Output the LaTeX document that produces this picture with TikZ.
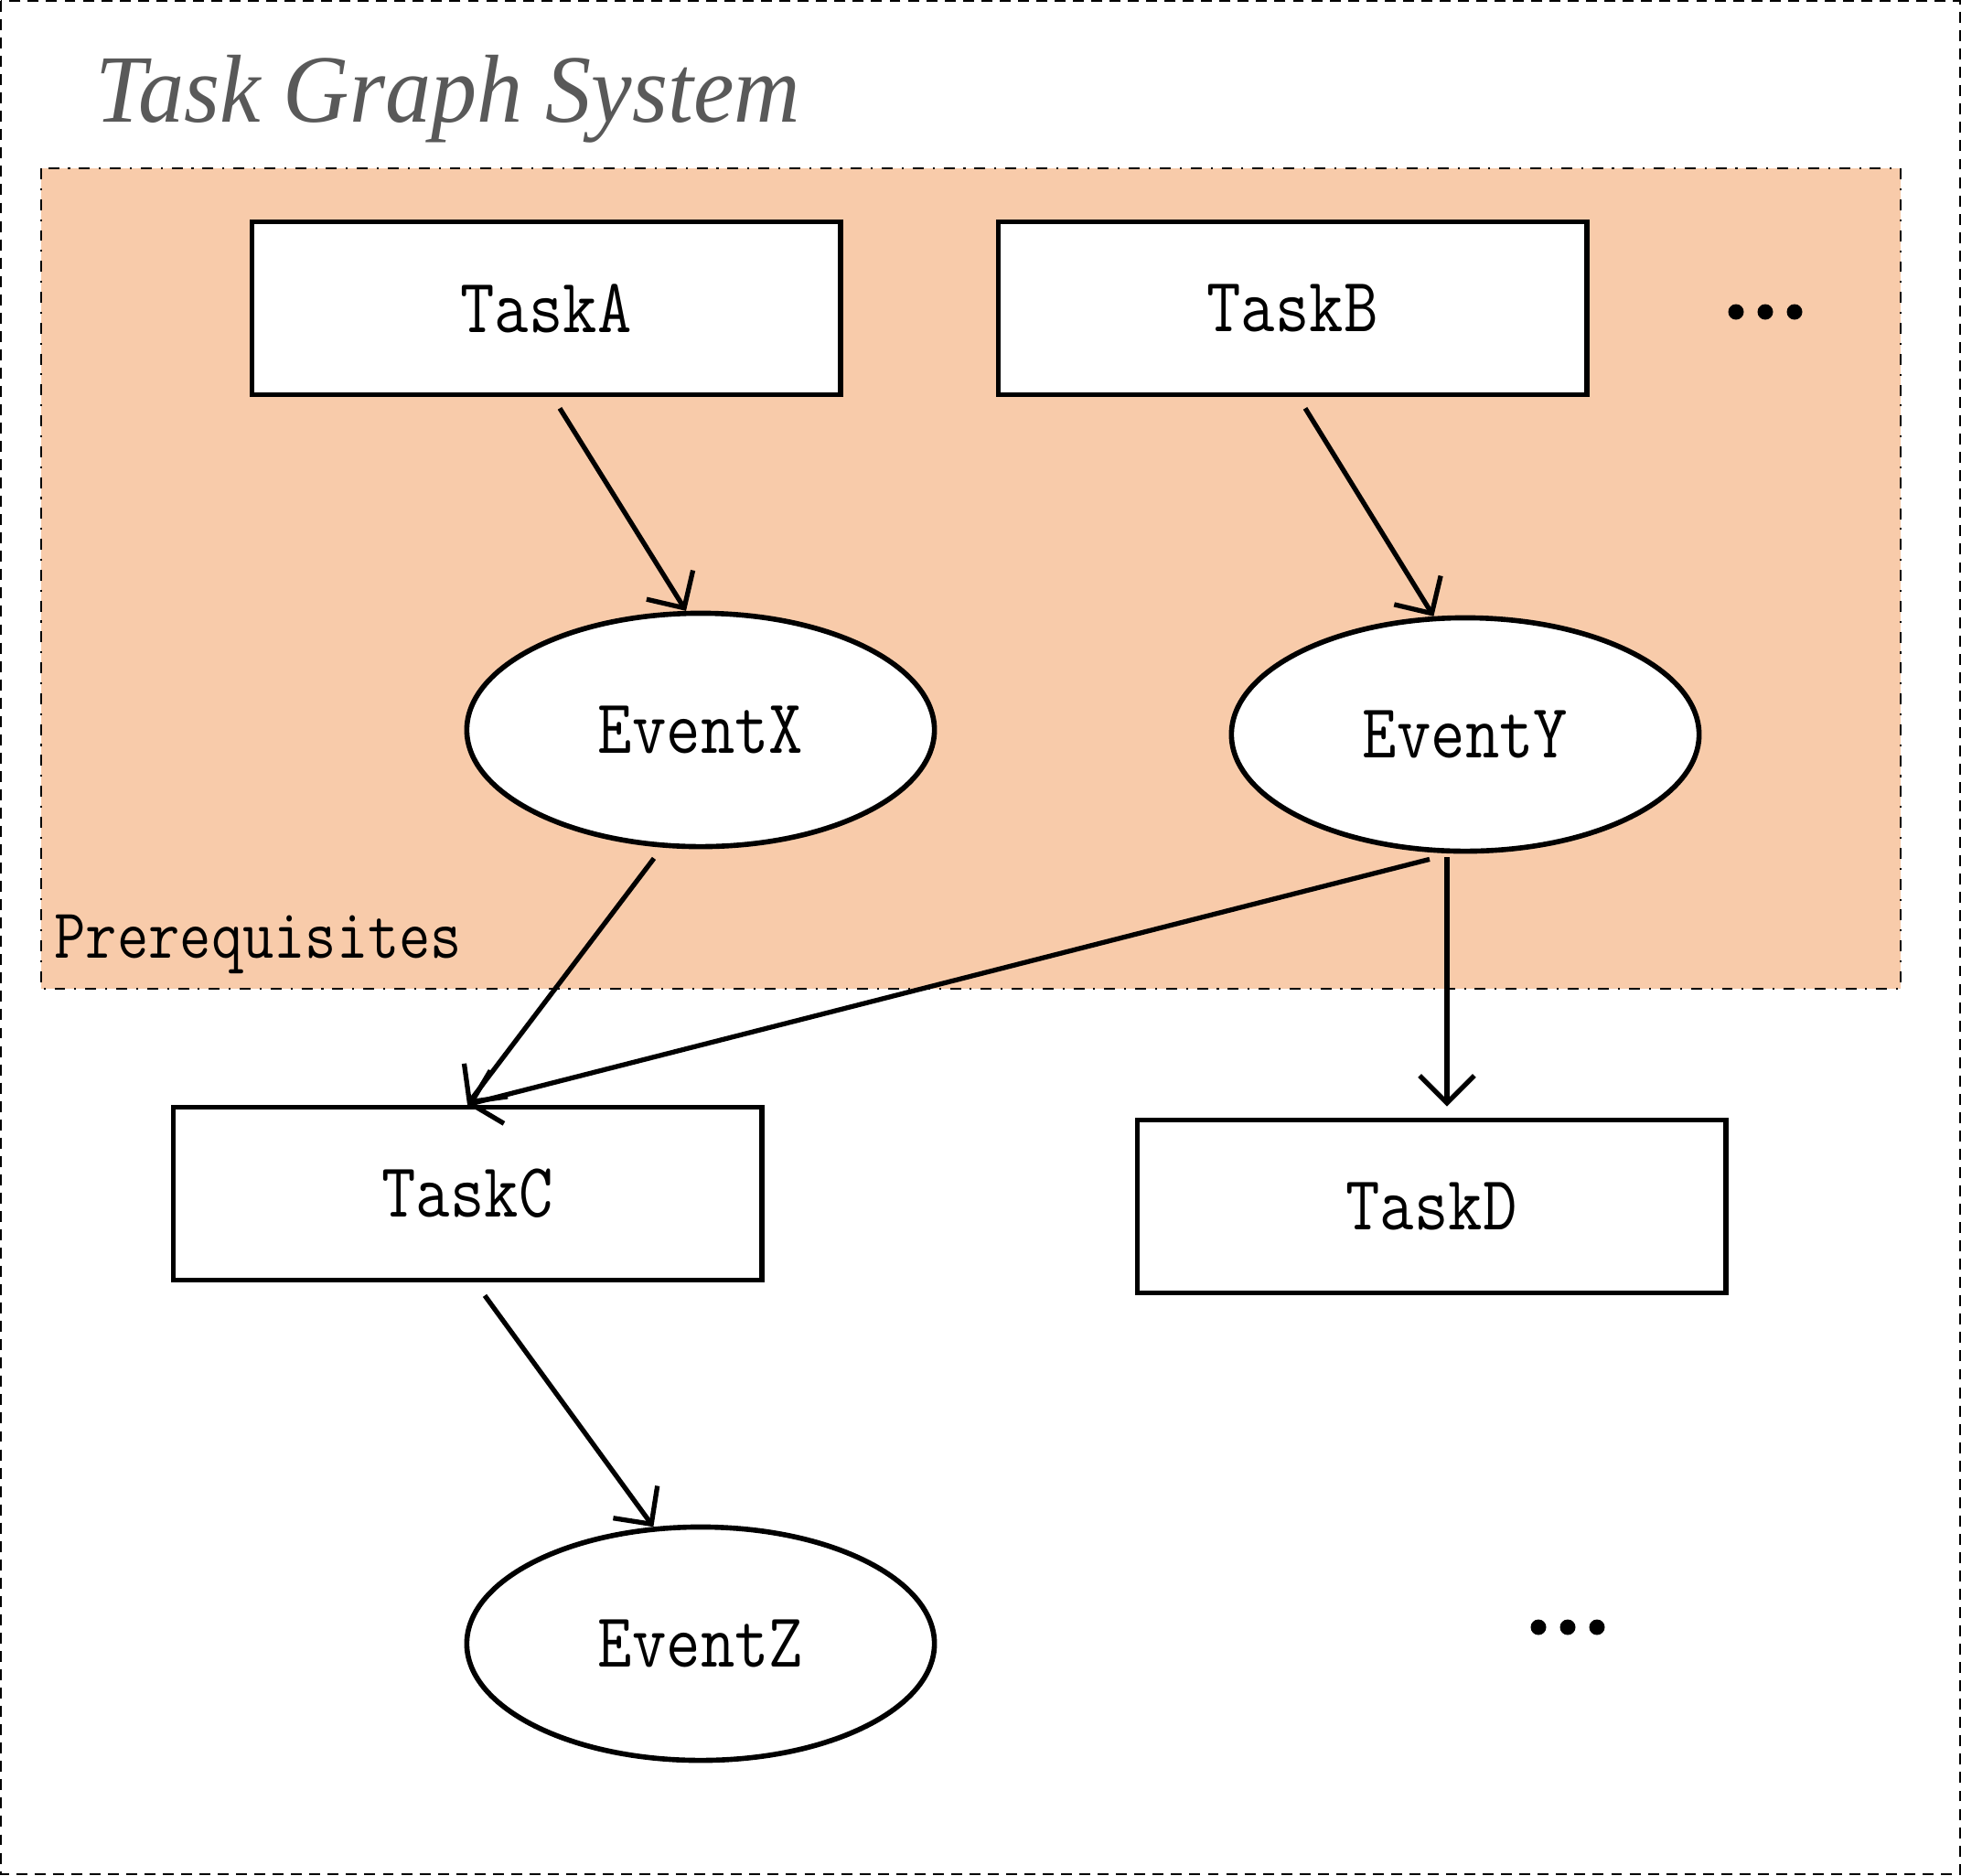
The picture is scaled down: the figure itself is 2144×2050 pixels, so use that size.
\documentclass[tikz,border=0pt]{standalone}
\usepackage{fontspec}
\usetikzlibrary{shapes.geometric,arrows.meta,calc}
\newfontfamily\boxfont[FakeStretch=0.86]{Latin Modern Mono}
\newfontfamily\titlefont[FakeStretch=0.95]{Liberation Serif}
\definecolor{prereqfill}{HTML}{F8CBAA}
\definecolor{titlegray}{HTML}{595959}

\begin{document}
\begin{tikzpicture}[x=0.01cm,y=-0.01cm,
  task/.style={draw,line width=1.6pt,fill=white,minimum width=6.43cm,minimum height=1.89cm,
    font=\boxfont\fontsize{24pt}{28pt}\selectfont},
  event/.style={ellipse,draw,line width=1.6pt,fill=white,minimum width=5.11cm,minimum height=2.55cm,
    font=\boxfont\fontsize{24pt}{28pt}\selectfont},
  link/.style={line width=1.5pt,-{Straight Barb[length=8.5pt,width=17pt]}}]
\useasboundingbox (0,0) rectangle (2144,2050);

% frame and title
\draw[line width=0.5pt,dash pattern=on 3.4pt off 2.3pt] (1,1) rectangle (2143,2049);
\node[anchor=base west,inner sep=0,text=titlegray,
  font=\titlefont\itshape\fontsize{30pt}{36pt}\selectfont] (title) at (104,133) {Task Graph System};

% prerequisites area
\draw[fill=prereqfill,line width=0.6pt,dash pattern=on 3.4pt off 2.8pt on 0.6pt off 2.8pt]
  (45,184) rectangle (2078,1081);
\node[anchor=base west,inner sep=0,font=\boxfont\fontsize{22pt}{26pt}\selectfont] (prereq) at (59,1047) {Prerequisites};

\node[task] (taskA) at (597,337) {TaskA};
\node[task] (taskB) at (1413,337) {TaskB};
\node[event] (eventX) at (766,798) {EventX};
\node[event] (eventY) at (1602,803) {EventY};
\node[task] (taskC) at (511,1305) {TaskC};
\node[task] (taskD) at (1565,1319) {TaskD};
\node[event] (eventZ) at (766,1797) {EventZ};

\foreach \dx in {0,32,64} {
  \fill (1898+\dx,341) circle (8.5);
  \fill (1682+\dx,1779) circle (8.5);
}

\draw[link] ($(taskA.south)+(15,12)$) -- (eventX.97);
\draw[link] ($(taskB.south)+(14,12)$) -- (eventY.105);
\draw[link] ($(eventX.south)+(-51,10)$) -- (taskC.north);
\draw[link] ($(eventY.south)+(-39,6)$) -- (taskC.north);
\draw[link] ($(eventY.south)+(-20,4)$) -- ($(taskD.north)+(17,-12)$);
\draw[link] ($(taskC.south)+(19,14)$) -- (eventZ.112);
\end{tikzpicture}
\end{document}
